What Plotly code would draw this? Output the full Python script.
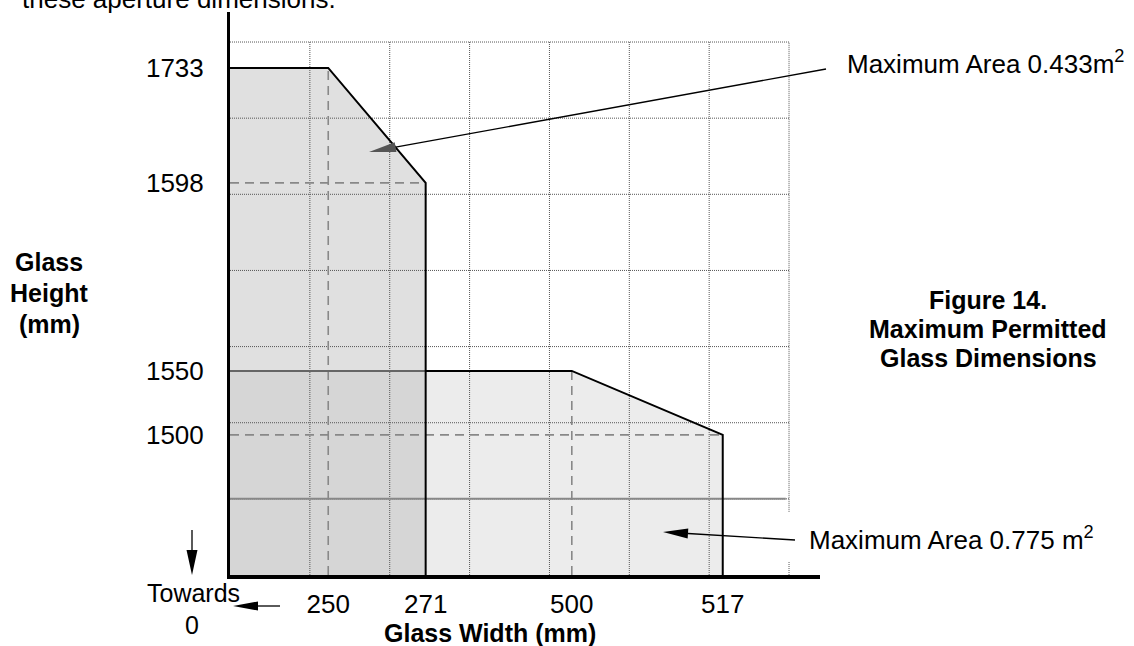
import math
import plotly.graph_objects as go

# ---------------- data ----------------
# The diagram is not to scale: positions are in diagram grid units.
width_labels = ["250", "271", "500", "517"]
width_pos = [1.23, 2.45, 4.28, 6.17]
height_labels = ["1733", "1598", "1550", "1500"]
height_pos = [6.66, 5.15, 2.68, 1.84]
lower_ref_line = 1.0           # solid grey reference line
grid_cells = 7                 # 7 x 7 grid

area_small_label = "Maximum Area 0.433m<sup>2</sup>"
area_large_label = "Maximum Area 0.775 m<sup>2</sup>"

w250, w271, w500, w517 = width_pos
h1733, h1598, h1550, h1500 = height_pos

# ---------------- layout geometry (pixels) ----------------
W, H = 1134, 646
L, R, T, B = 230, 820, 12, 575
UX, UY = 79.86, 76.14
XMAX = (R - L) / UX
YMAX = (B - T) / UY
FONT = "Liberation Sans, Arial, sans-serif"


def px(xp):
    return (xp - L) / (R - L)


def py(yp):
    return (B - yp) / (B - T)


fig = go.Figure()


def poly(xs, ys, color):
    fig.add_trace(go.Scatter(x=xs, y=ys, fill="toself", fillcolor=color,
                             mode="lines", line=dict(width=0, color=color),
                             hoverinfo="skip", showlegend=False))


def path(xs, ys, color, width, dash="solid"):
    fig.add_trace(go.Scatter(x=xs, y=ys, mode="lines",
                             line=dict(color=color, width=width, dash=dash),
                             hoverinfo="skip", showlegend=False))


# fills
poly([0, 0, w500, w517, w517], [0, h1550, h1550, h1500, 0], "#ececec")
poly([0, 0, w250, w271, w271], [0, h1733, h1733, h1598, 0], "#e0e0e0")
poly([0, 0, w271, w271], [0, h1550, h1550, 0], "#d6d6d6")

# dotted grid
gx, gy = [], []
for k in range(1, grid_cells + 1):
    if k < grid_cells:
        gx += [k, k, None]
        gy += [0, grid_cells, None]
    else:
        gx += [k, k, None, k, k, None]
        gy += [0, 0.17, None, 0.83, grid_cells, None]
    gx += [0, grid_cells, None]
    gy += [k, k, None]
path(gx, gy, "#555555", 1, "1px,1px")

# dashed construction lines
DASH = "9px,6px"
path([w250, w250], [0, h1733], "#888888", 1.6, DASH)
path([0, w271], [h1598, h1598], "#888888", 1.6, DASH)
path([w500, w500], [0, h1550], "#888888", 1.6, DASH)
path([0, w517], [h1500, h1500], "#888888", 1.6, DASH)

# solid grey lines
path([0, grid_cells - 0.04], [lower_ref_line, lower_ref_line], "#888888", 2)
path([0, w271], [h1550, h1550], "#666666", 2)

# outlines
path([0, w250, w271, w271], [h1733, h1733, h1598, 0], "black", 2)
path([w271, w500, w517, w517], [h1550, h1550, h1500, 0], "black", 2)

# ---------------- arrows (shapes in paper coordinates) ----------------
shapes = []


def arrow(tail, tip, head_len=25, head_w=10, color="black", head_color=None, lw=1.3):
    head_color = head_color or color
    dx, dy = tip[0] - tail[0], tip[1] - tail[1]
    d = math.hypot(dx, dy)
    ux, uy = dx / d, dy / d
    bx, by = tip[0] - ux * head_len, tip[1] - uy * head_len
    nx, ny = -uy, ux
    v1 = (bx + nx * head_w / 2, by + ny * head_w / 2)
    v2 = (bx - nx * head_w / 2, by - ny * head_w / 2)
    shapes.append(dict(type="line", xref="paper", yref="paper",
                       x0=px(tail[0]), y0=py(tail[1]), x1=px(bx), y1=py(by),
                       line=dict(color=color, width=lw)))
    shapes.append(dict(type="path", xref="paper", yref="paper",
                       path=f"M{px(tip[0])},{py(tip[1])} L{px(v1[0])},{py(v1[1])} "
                            f"L{px(v2[0])},{py(v2[1])} Z",
                       fillcolor=head_color, line=dict(width=0)))


arrow((826, 69), (369, 152), head_len=27, head_w=10, head_color="#555555")
arrow((795, 540), (663, 532))
arrow((192, 530), (192, 575), head_w=11)
arrow((280, 606), (233, 606), head_w=9)

# ---------------- text ----------------
ann = []


def text(s, x, y, size=25, xanchor="center", bold=False):
    ann.append(dict(text=f"<b>{s}</b>" if bold else s, xref="paper", yref="paper",
                    x=px(x), y=py(y), xanchor=xanchor, yanchor="middle",
                    showarrow=False, font=dict(family=FONT, size=size, color="black")))


text("these aperture dimensions.", 20, -1, size=26, xanchor="left")
text(area_small_label, 845, 62, size=26, xanchor="left")
text(area_large_label, 807, 538, size=26, xanchor="left")
text("Figure 14.", 988, 300, bold=True)
text("Maximum Permitted", 988, 329, bold=True)
text("Glass Dimensions", 988, 358, bold=True)
text("Glass", 49, 262, bold=True)
text("Height", 49, 293, bold=True)
text("(mm)", 49, 324, bold=True)
text("Glass Width (mm)", 490, 633, bold=True)
text("Towards", 193, 593)
text("0", 192, 625)

fig.update_layout(
    width=W, height=H,
    margin=dict(l=L, r=W - R, t=T, b=H - B, pad=0),
    paper_bgcolor="white", plot_bgcolor="white",
    shapes=shapes, annotations=ann, showlegend=False,
    font=dict(family=FONT, size=25, color="black"),
)
fig.update_xaxes(range=[0, XMAX], showgrid=False, zeroline=False, showline=True,
                 linecolor="black", linewidth=4, tickvals=width_pos, ticktext=width_labels,
                 ticks="", tickfont=dict(family=FONT, size=26, color="black"),
                 ticklabelstandoff=3, fixedrange=True)
fig.update_yaxes(range=[0, YMAX], showgrid=False, zeroline=False, showline=True,
                 linecolor="black", linewidth=3, tickvals=height_pos, ticktext=height_labels,
                 ticks="", tickfont=dict(family=FONT, size=26, color="black"),
                 ticklabelstandoff=18, fixedrange=True)

fig.write_html(
    "out.html",
    config={"displayModeBar": False},
    post_script="document.body.style.margin='0';document.body.style.overflow='hidden';",
)
